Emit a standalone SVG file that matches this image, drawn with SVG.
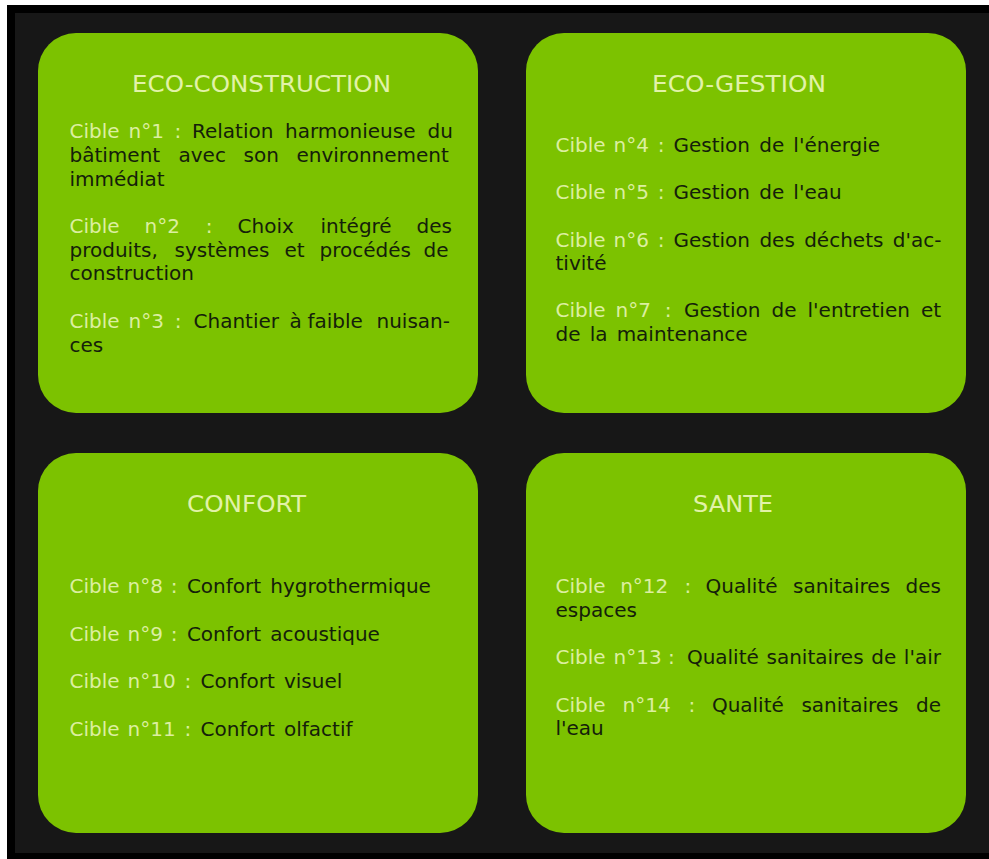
<svg xmlns="http://www.w3.org/2000/svg" width="989" height="859" viewBox="0 0 989 859">
<style>
.box{fill:#7cc200}
.t{font-family:"DejaVu Sans",Verdana,sans-serif;font-size:23px;fill:#e2f2a8;text-anchor:middle}
.b{font-family:"DejaVu Sans",Verdana,sans-serif;font-size:20px;fill:#14200a}
.c{fill:#dcefa0}
.n{word-spacing:2.8px}
</style>
<rect x="0" y="0" width="989" height="859" fill="#ffffff"/>
<rect x="7" y="5" width="982" height="854" fill="#000000"/>
<rect x="15" y="13" width="974" height="840" fill="#171717"/>

<g id="eco-construction">
<rect class="box" x="38" y="33" width="440" height="380" rx="38"/>
<text class="t" x="261.5" y="92" textLength="259" lengthAdjust="spacingAndGlyphs">ECO-CONSTRUCTION</text>
<text class="b" y="138"><tspan class="c" x="69.5">Cible</tspan><tspan class="c" x="128.5">n°1</tspan><tspan class="c" x="174.5">:</tspan><tspan x="192">Relation</tspan><tspan x="285">harmonieuse</tspan><tspan x="427.5">du</tspan></text>
<text class="b" y="162"><tspan x="69.5">bâtiment</tspan><tspan x="178.5">avec</tspan><tspan x="243.5">son</tspan><tspan x="296.5">environnement</tspan></text>
<text class="b" y="186"><tspan x="69.5">immédiat</tspan></text>
<text class="b" y="233"><tspan class="c" x="69.5">Cible</tspan><tspan class="c" x="144.5">n°2</tspan><tspan class="c" x="205.7">:</tspan><tspan x="237.5">Choix</tspan><tspan x="320.5">intégré</tspan><tspan x="416.5">des</tspan></text>
<text class="b" y="257"><tspan x="69.5">produits,</tspan><tspan x="174.5">systèmes</tspan><tspan x="284.5">et</tspan><tspan x="319.5">procédés</tspan><tspan x="423.5">de</tspan></text>
<text class="b" y="280"><tspan x="69.5">construction</tspan></text>
<text class="b" y="328"><tspan class="c" x="69.5">Cible</tspan><tspan class="c" x="128.5">n°3</tspan><tspan class="c" x="174.7">:</tspan><tspan x="193.5">Chantier</tspan><tspan x="289.5">à</tspan><tspan x="307.5">faible</tspan><tspan x="376.5">nuisan-</tspan></text>
<text class="b" y="352"><tspan x="69.5">ces</tspan></text>
</g>

<g id="eco-gestion">
<rect class="box" x="526" y="33" width="440" height="380" rx="38"/>
<text class="t" x="739" y="92" textLength="174" lengthAdjust="spacingAndGlyphs">ECO-GESTION</text>
<text class="b" y="152"><tspan class="c" x="555.5">Cible</tspan><tspan class="c" x="613.5">n°4</tspan><tspan class="c" x="657.7">:</tspan><tspan class="n" x="673.5">Gestion de l'énergie</tspan></text>
<text class="b" y="199"><tspan class="c" x="555.5">Cible</tspan><tspan class="c" x="613.5">n°5</tspan><tspan class="c" x="657.7">:</tspan><tspan class="n" x="673.5">Gestion de l'eau</tspan></text>
<text class="b" y="247"><tspan class="c" x="555.5">Cible</tspan><tspan class="c" x="613.5">n°6</tspan><tspan class="c" x="657.7">:</tspan><tspan x="673.5" style="word-spacing:3px">Gestion des déchets d'ac-</tspan></text>
<text class="b" y="270"><tspan x="555.5">tivité</tspan></text>
<text class="b" y="317"><tspan class="c" x="555.5">Cible</tspan><tspan class="c" x="615.5">n°7</tspan><tspan class="c" x="664.7">:</tspan><tspan x="683.9" style="word-spacing:4.7px">Gestion de l'entretien et</tspan></text>
<text class="b" y="341"><tspan class="n" x="555.5">de la maintenance</tspan></text>
</g>

<g id="confort">
<rect class="box" x="38" y="453" width="440" height="380" rx="38"/>
<text class="t" x="246.5" y="512" textLength="119" lengthAdjust="spacingAndGlyphs">CONFORT</text>
<text class="b" y="593"><tspan class="c" x="69.5">Cible</tspan><tspan class="c" x="127.5">n°8</tspan><tspan class="c" x="170.7">:</tspan><tspan class="n" x="186.9">Confort hygrothermique</tspan></text>
<text class="b" y="641"><tspan class="c" x="69.5">Cible</tspan><tspan class="c" x="127.5">n°9</tspan><tspan class="c" x="170.7">:</tspan><tspan class="n" x="186.9">Confort acoustique</tspan></text>
<text class="b" y="688"><tspan class="c" x="69.5">Cible</tspan><tspan class="c" x="127.5">n°10</tspan><tspan class="c" x="184.4">:</tspan><tspan class="n" x="200.6">Confort visuel</tspan></text>
<text class="b" y="736"><tspan class="c" x="69.5">Cible</tspan><tspan class="c" x="127.5">n°11</tspan><tspan class="c" x="184.4">:</tspan><tspan class="n" x="200.6">Confort olfactif</tspan></text>
</g>

<g id="sante">
<rect class="box" x="526" y="453" width="440" height="380" rx="38"/>
<text class="t" x="733" y="512" textLength="80" lengthAdjust="spacingAndGlyphs">SANTE</text>
<text class="b" y="593"><tspan class="c" x="555.5">Cible</tspan><tspan class="c" x="620.2">n°12</tspan><tspan class="c" x="684.4">:</tspan><tspan x="705.6" style="word-spacing:9.1px">Qualité sanitaires des</tspan></text>
<text class="b" y="617"><tspan x="555.5">espaces</tspan></text>
<text class="b" y="664"><tspan class="c" x="555.5">Cible</tspan><tspan class="c" x="613.5">n°13</tspan><tspan class="c" x="668">:</tspan><tspan x="686.9" style="word-spacing:1.3px">Qualité sanitaires de l'air</tspan></text>
<text class="b" y="712"><tspan class="c" x="555.5">Cible</tspan><tspan class="c" x="622.5">n°14</tspan><tspan class="c" x="688.4">:</tspan><tspan x="711.9" style="word-spacing:11.2px">Qualité sanitaires de</tspan></text>
<text class="b" y="735"><tspan x="555.5">l'eau</tspan></text>
</g>
</svg>
